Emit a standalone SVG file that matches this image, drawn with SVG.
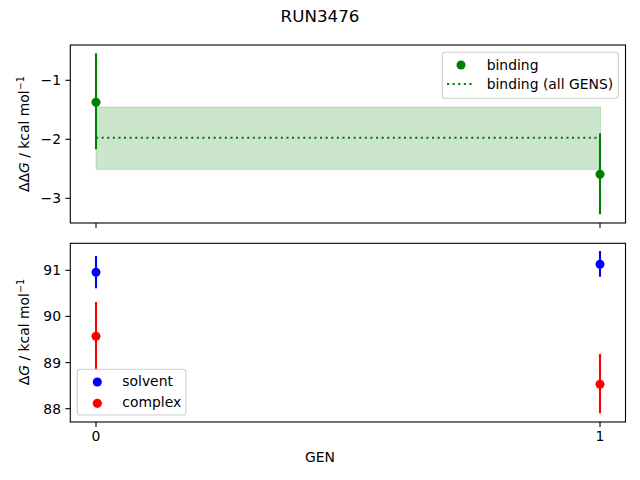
<svg xmlns="http://www.w3.org/2000/svg" width="640" height="480" viewBox="0 0 640 480">
<style>
text{font-family:"DejaVu Sans",sans-serif;font-size:13.9px;fill:#000}
.ax{fill:none;stroke:#000;stroke-width:1.1}
.tk{stroke:#000;stroke-width:1.1}
.yl{text-anchor:end}
.xl{text-anchor:middle}
.leg{fill:#fff;fill-opacity:0.8;stroke:#ccc;stroke-width:1.1}
.eg{stroke:#008000;stroke-width:2.1}
.eb{stroke:#0000ff;stroke-width:2.1}
.er{stroke:#ff0000;stroke-width:2.1}
</style>
<rect width="640" height="480" fill="#fff"/>
<text x="320" y="22" class="xl" style="font-size:16.7px">RUN3476</text>

<g id="top-axes">
<rect x="96" y="107" width="504.5" height="62.3" fill="#008000" fill-opacity="0.2" stroke="#008000" stroke-opacity="0.2" stroke-width="1"/>
<line x1="96" y1="137.7" x2="600.5" y2="137.7" stroke="#008000" stroke-width="2.1" stroke-dasharray="2.1,3.5"/>
<line class="eg" x1="96" y1="53.3" x2="96" y2="149.3"/>
<circle cx="96" cy="102.3" r="4.5" fill="#008000"/>
<line class="eg" x1="600" y1="133.3" x2="600" y2="214.3"/>
<circle cx="600" cy="174.3" r="4.5" fill="#008000"/>
<rect class="ax" x="70.3" y="45" width="555.2" height="178"/>
<line class="tk" x1="70.3" y1="80.3" x2="65.4" y2="80.3"/>
<line class="tk" x1="70.3" y1="139.3" x2="65.4" y2="139.3"/>
<line class="tk" x1="70.3" y1="198.3" x2="65.4" y2="198.3"/>
<line class="tk" x1="96" y1="223" x2="96" y2="227.9"/>
<line class="tk" x1="600" y1="223" x2="600" y2="227.9"/>
<text x="61" y="85.3" class="yl">−1</text>
<text x="61" y="144.3" class="yl">−2</text>
<text x="61" y="203.3" class="yl">−3</text>
<text transform="translate(29,134) rotate(-90)" class="xl">ΔΔ<tspan font-style="italic">G</tspan> / kcal mol<tspan baseline-shift="super" style="font-size:9.7px">−1</tspan></text>
<g id="top-legend">
<rect class="leg" x="442.3" y="52.3" width="176" height="46" rx="2.8"/>
<circle cx="461" cy="65" r="4.5" fill="#008000"/>
<line x1="447" y1="84" x2="475" y2="84" stroke="#008000" stroke-width="2.1" stroke-dasharray="2.1,3.5"/>
<text x="486.7" y="69.6">binding</text>
<text x="486.7" y="88.6">binding (all GENS)</text>
</g>
</g>

<g id="bottom-axes">
<line class="eb" x1="96" y1="256" x2="96" y2="288.3"/>
<circle cx="96" cy="272.3" r="4.5" fill="#0000ff"/>
<line class="er" x1="96" y1="302" x2="96" y2="370.6"/>
<circle cx="96" cy="336.3" r="4.5" fill="#ff0000"/>
<line class="eb" x1="600" y1="251" x2="600" y2="276.7"/>
<circle cx="600" cy="264.3" r="4.5" fill="#0000ff"/>
<line class="er" x1="600" y1="354" x2="600" y2="413.3"/>
<circle cx="600" cy="384.3" r="4.5" fill="#ff0000"/>
<rect class="ax" x="70.3" y="243.3" width="555.2" height="178.7"/>
<line class="tk" x1="70.3" y1="270.3" x2="65.4" y2="270.3"/>
<line class="tk" x1="70.3" y1="316.4" x2="65.4" y2="316.4"/>
<line class="tk" x1="70.3" y1="362.6" x2="65.4" y2="362.6"/>
<line class="tk" x1="70.3" y1="408.7" x2="65.4" y2="408.7"/>
<line class="tk" x1="96" y1="422" x2="96" y2="426.9"/>
<line class="tk" x1="600" y1="422" x2="600" y2="426.9"/>
<text x="61" y="275.3" class="yl">91</text>
<text x="61" y="321.4" class="yl">90</text>
<text x="61" y="367.6" class="yl">89</text>
<text x="61" y="413.7" class="yl">88</text>
<text x="96" y="441" class="xl">0</text>
<text x="600" y="441" class="xl">1</text>
<text x="320" y="462" class="xl">GEN</text>
<text transform="translate(29,332) rotate(-90)" class="xl">Δ<tspan font-style="italic">G</tspan> / kcal mol<tspan baseline-shift="super" style="font-size:9.7px">−1</tspan></text>
<g id="bottom-legend">
<rect class="leg" x="77.3" y="369.3" width="108.7" height="45.7" rx="2.8"/>
<circle cx="97.3" cy="382" r="4.6" fill="#0000ff"/>
<circle cx="97.3" cy="403.3" r="4.6" fill="#ff0000"/>
<text x="122.3" y="386">solvent</text>
<text x="122.3" y="407">complex</text>
</g>
</g>
</svg>
